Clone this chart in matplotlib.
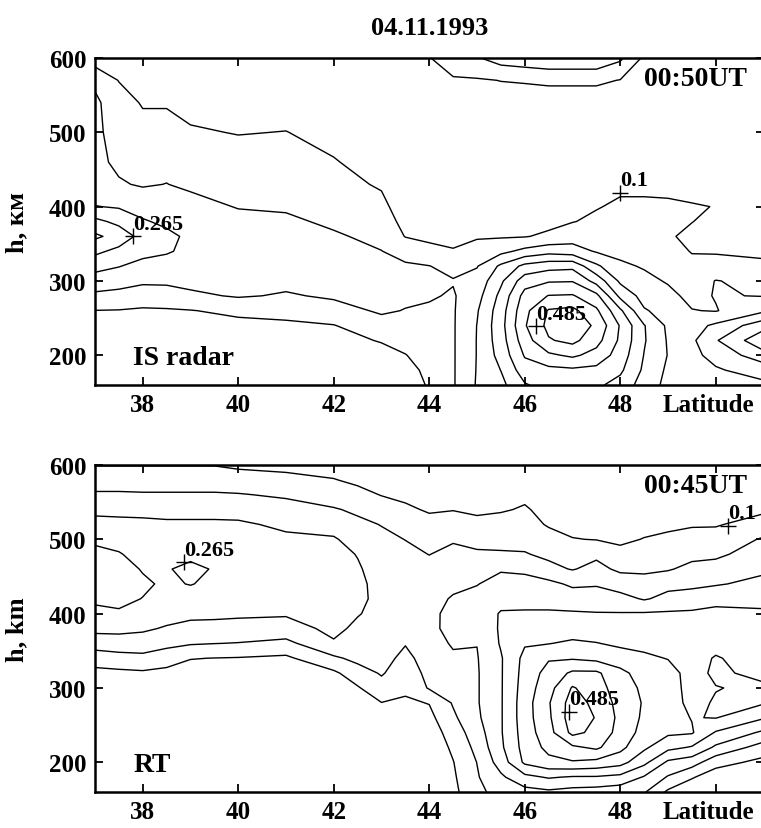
import numpy as np
import matplotlib
matplotlib.use("Agg")
import matplotlib.pyplot as plt
from matplotlib.transforms import ScaledTranslation

plt.rcParams['font.family'] = ['Liberation Serif', 'DejaVu Serif']
plt.rcParams['font.weight'] = 'bold'

levels = [0.1, 0.155, 0.21, 0.265, 0.32, 0.375, 0.43, 0.485]

# IS radar, 00:50UT: one height profile per latitude (bottom -> top)
lat_is = [37, 37.5, 38, 38.5, 39, 40, 41, 42, 43, 43.5, 44, 44.5, 45, 45.5,
          46, 46.5, 47, 47.5, 48, 48.5, 49, 49.5, 50, 51]
h_is = [160, 180, 200, 220, 240, 260, 280, 300, 320, 340, 360, 380, 400,
        430, 460, 500, 540, 570, 600]
ne_is = [
    [0.04, 0.05, 0.06, 0.07, 0.085, 0.099, 0.144, 0.185, 0.228, 0.278, 0.33, 0.28, 0.212, 0.175, 0.168, 0.163, 0.165, 0.145, 0.07],
    [0.04, 0.05, 0.06, 0.07, 0.085, 0.098, 0.135, 0.18, 0.212, 0.25, 0.30, 0.25, 0.205, 0.16, 0.145, 0.14, 0.125, 0.098, 0.06],
    [0.04, 0.05, 0.06, 0.07, 0.08, 0.094, 0.125, 0.165, 0.195, 0.225, 0.245, 0.215, 0.19, 0.15, 0.14, 0.12, 0.095, 0.07, 0.05],
    [0.04, 0.05, 0.06, 0.07, 0.08, 0.095, 0.13, 0.165, 0.19, 0.215, 0.222, 0.2, 0.185, 0.156, 0.14, 0.12, 0.095, 0.07, 0.05],
    [0.04, 0.05, 0.06, 0.07, 0.082, 0.098, 0.145, 0.17, 0.185, 0.198, 0.2, 0.19, 0.175, 0.145, 0.13, 0.105, 0.085, 0.07, 0.05],
    [0.04, 0.05, 0.06, 0.07, 0.085, 0.112, 0.16, 0.175, 0.185, 0.19, 0.185, 0.172, 0.152, 0.135, 0.12, 0.098, 0.08, 0.065, 0.05],
    [0.04, 0.05, 0.06, 0.07, 0.09, 0.118, 0.15, 0.168, 0.178, 0.182, 0.178, 0.165, 0.148, 0.135, 0.122, 0.101, 0.08, 0.065, 0.05],
    [0.04, 0.05, 0.062, 0.075, 0.098, 0.135, 0.162, 0.172, 0.175, 0.172, 0.162, 0.145, 0.13, 0.115, 0.103, 0.085, 0.07, 0.06, 0.05],
    [0.04, 0.055, 0.075, 0.105, 0.135, 0.162, 0.17, 0.172, 0.168, 0.156, 0.14, 0.125, 0.112, 0.095, 0.08, 0.065, 0.06, 0.055, 0.05],
    [0.05, 0.075, 0.098, 0.12, 0.138, 0.153, 0.165, 0.17, 0.162, 0.135, 0.098, 0.085, 0.075, 0.068, 0.063, 0.06, 0.06, 0.06, 0.06],
    [0.11, 0.118, 0.125, 0.132, 0.14, 0.148, 0.16, 0.165, 0.156, 0.12, 0.085, 0.07, 0.065, 0.06, 0.06, 0.065, 0.075, 0.09, 0.098],
    [0.15, 0.15, 0.15, 0.15, 0.15, 0.15, 0.15, 0.158, 0.14, 0.105, 0.08, 0.07, 0.065, 0.06, 0.06, 0.062, 0.07, 0.095, 0.125],
    [0.215, 0.213, 0.212, 0.212, 0.211, 0.205, 0.19, 0.175, 0.152, 0.12, 0.095, 0.08, 0.07, 0.065, 0.065, 0.065, 0.07, 0.095, 0.15],
    [0.25, 0.266, 0.285, 0.295, 0.3, 0.295, 0.28, 0.255, 0.22, 0.14, 0.095, 0.08, 0.07, 0.065, 0.065, 0.07, 0.08, 0.101, 0.18],
    [0.315, 0.35, 0.38, 0.405, 0.425, 0.415, 0.395, 0.35, 0.28, 0.17, 0.097, 0.08, 0.07, 0.065, 0.065, 0.07, 0.07, 0.105, 0.19],
    [0.34, 0.36, 0.42, 0.48, 0.5, 0.49, 0.432, 0.37, 0.3, 0.19, 0.11, 0.085, 0.075, 0.07, 0.065, 0.065, 0.07, 0.11, 0.2],
    [0.35, 0.365, 0.44, 0.5, 0.52, 0.5, 0.435, 0.372, 0.305, 0.18, 0.13, 0.098, 0.08, 0.07, 0.065, 0.065, 0.07, 0.11, 0.2],
    [0.33, 0.36, 0.41, 0.45, 0.475, 0.44, 0.39, 0.3, 0.22, 0.15, 0.125, 0.11, 0.097, 0.08, 0.07, 0.065, 0.07, 0.11, 0.2],
    [0.3, 0.33, 0.35, 0.365, 0.37, 0.33, 0.25, 0.2, 0.165, 0.14, 0.125, 0.115, 0.108, 0.09, 0.075, 0.065, 0.07, 0.098, 0.165],
    [0.24, 0.255, 0.263, 0.27, 0.268, 0.215, 0.19, 0.17, 0.15, 0.135, 0.12, 0.112, 0.108, 0.09, 0.075, 0.065, 0.065, 0.07, 0.09],
    [0.195, 0.2, 0.208, 0.205, 0.2, 0.19, 0.17, 0.15, 0.13, 0.115, 0.105, 0.105, 0.106, 0.09, 0.075, 0.065, 0.065, 0.065, 0.07],
    [0.19, 0.195, 0.198, 0.2, 0.19, 0.157, 0.14, 0.125, 0.11, 0.098, 0.09, 0.101, 0.103, 0.085, 0.07, 0.065, 0.065, 0.065, 0.065],
    [0.2, 0.205, 0.225, 0.26, 0.22, 0.152, 0.158, 0.157, 0.12, 0.095, 0.085, 0.088, 0.099, 0.085, 0.07, 0.065, 0.065, 0.065, 0.065],
    [0.2, 0.23, 0.3, 0.36, 0.3, 0.2, 0.153, 0.14, 0.105, 0.095, 0.085, 0.085, 0.085, 0.08, 0.07, 0.065, 0.065, 0.065, 0.065],
]

# RT, 00:45UT
lat_rt = [37, 37.5, 38, 38.5, 39, 39.5, 40, 41, 42, 42.5, 43, 43.5, 44, 44.5,
          45, 45.5, 46, 46.5, 47, 47.5, 48, 48.5, 49, 49.5, 50, 51]
h_rt = [160, 180, 200, 220, 240, 260, 280, 300, 320, 340, 360, 380, 400, 420,
        440, 460, 480, 500, 520, 540, 560, 580, 600]
ne_rt = [
    [0.03, 0.03, 0.035, 0.04, 0.045, 0.05, 0.06, 0.07, 0.085, 0.125, 0.18, 0.225, 0.255, 0.272, 0.283, 0.285, 0.275, 0.258, 0.23, 0.195, 0.162, 0.13, 0.098],
    [0.03, 0.03, 0.035, 0.04, 0.045, 0.05, 0.06, 0.07, 0.088, 0.135, 0.185, 0.225, 0.26, 0.275, 0.285, 0.282, 0.268, 0.25, 0.225, 0.195, 0.162, 0.13, 0.098],
    [0.03, 0.03, 0.035, 0.04, 0.045, 0.05, 0.06, 0.072, 0.092, 0.14, 0.185, 0.218, 0.245, 0.264, 0.272, 0.262, 0.25, 0.24, 0.222, 0.195, 0.16, 0.13, 0.098],
    [0.03, 0.03, 0.035, 0.04, 0.045, 0.05, 0.06, 0.07, 0.085, 0.125, 0.17, 0.205, 0.23, 0.245, 0.258, 0.262, 0.255, 0.24, 0.22, 0.19, 0.16, 0.13, 0.098],
    [0.03, 0.03, 0.035, 0.04, 0.045, 0.05, 0.058, 0.066, 0.078, 0.102, 0.16, 0.195, 0.222, 0.245, 0.267, 0.275, 0.255, 0.24, 0.22, 0.19, 0.16, 0.13, 0.098],
    [0.03, 0.03, 0.035, 0.04, 0.045, 0.05, 0.058, 0.066, 0.077, 0.099, 0.156, 0.195, 0.22, 0.24, 0.255, 0.262, 0.25, 0.238, 0.22, 0.19, 0.16, 0.13, 0.098],
    [0.03, 0.03, 0.035, 0.04, 0.045, 0.05, 0.058, 0.066, 0.077, 0.097, 0.153, 0.192, 0.218, 0.235, 0.245, 0.25, 0.245, 0.235, 0.218, 0.19, 0.158, 0.125, 0.09],
    [0.03, 0.03, 0.035, 0.04, 0.045, 0.05, 0.058, 0.066, 0.075, 0.09, 0.14, 0.19, 0.215, 0.228, 0.235, 0.235, 0.23, 0.22, 0.2, 0.175, 0.148, 0.115, 0.085],
    [0.03, 0.03, 0.035, 0.04, 0.045, 0.05, 0.058, 0.068, 0.09, 0.145, 0.205, 0.222, 0.23, 0.235, 0.235, 0.232, 0.225, 0.215, 0.19, 0.16, 0.125, 0.102, 0.08],
    [0.03, 0.035, 0.04, 0.045, 0.05, 0.06, 0.075, 0.095, 0.13, 0.17, 0.19, 0.2, 0.213, 0.218, 0.218, 0.215, 0.208, 0.19, 0.168, 0.145, 0.115, 0.09, 0.075],
    [0.035, 0.04, 0.045, 0.055, 0.065, 0.08, 0.099, 0.135, 0.16, 0.175, 0.185, 0.19, 0.195, 0.2, 0.198, 0.19, 0.18, 0.168, 0.153, 0.125, 0.098, 0.08, 0.07],
    [0.035, 0.04, 0.045, 0.055, 0.065, 0.078, 0.092, 0.11, 0.125, 0.14, 0.158, 0.17, 0.18, 0.185, 0.185, 0.18, 0.168, 0.154, 0.13, 0.108, 0.09, 0.075, 0.065],
    [0.04, 0.045, 0.05, 0.06, 0.07, 0.085, 0.102, 0.16, 0.17, 0.18, 0.19, 0.198, 0.2, 0.195, 0.185, 0.17, 0.154, 0.135, 0.115, 0.095, 0.08, 0.07, 0.06],
    [0.085, 0.092, 0.098, 0.11, 0.125, 0.145, 0.16, 0.175, 0.19, 0.203, 0.215, 0.225, 0.222, 0.214, 0.2, 0.185, 0.168, 0.15, 0.125, 0.098, 0.085, 0.075, 0.065],
    [0.145, 0.15, 0.156, 0.17, 0.185, 0.2, 0.205, 0.205, 0.205, 0.207, 0.211, 0.222, 0.228, 0.225, 0.208, 0.19, 0.162, 0.14, 0.115, 0.09, 0.08, 0.07, 0.065],
    [0.17, 0.2, 0.235, 0.255, 0.26, 0.26, 0.26, 0.26, 0.26, 0.26, 0.27, 0.272, 0.27, 0.245, 0.228, 0.205, 0.16, 0.14, 0.12, 0.095, 0.085, 0.075, 0.07],
    [0.19, 0.25, 0.33, 0.34, 0.345, 0.35, 0.35, 0.345, 0.34, 0.335, 0.315, 0.29, 0.27, 0.25, 0.228, 0.2, 0.158, 0.14, 0.12, 0.105, 0.09, 0.08, 0.07],
    [0.2, 0.27, 0.36, 0.39, 0.41, 0.42, 0.425, 0.41, 0.395, 0.37, 0.318, 0.29, 0.27, 0.25, 0.225, 0.168, 0.145, 0.12, 0.095, 0.085, 0.08, 0.075, 0.07],
    [0.19, 0.26, 0.37, 0.42, 0.5, 0.515, 0.51, 0.49, 0.44, 0.37, 0.33, 0.29, 0.27, 0.24, 0.2, 0.152, 0.13, 0.102, 0.085, 0.08, 0.075, 0.07, 0.065],
    [0.185, 0.26, 0.36, 0.44, 0.47, 0.482, 0.47, 0.455, 0.44, 0.36, 0.322, 0.29, 0.268, 0.235, 0.205, 0.17, 0.145, 0.098, 0.085, 0.08, 0.075, 0.07, 0.065],
    [0.175, 0.25, 0.34, 0.39, 0.41, 0.415, 0.41, 0.4, 0.39, 0.345, 0.31, 0.285, 0.268, 0.228, 0.185, 0.145, 0.115, 0.09, 0.08, 0.075, 0.07, 0.065, 0.06],
    [0.16, 0.205, 0.28, 0.33, 0.355, 0.365, 0.37, 0.365, 0.35, 0.33, 0.305, 0.285, 0.27, 0.205, 0.175, 0.145, 0.125, 0.102, 0.085, 0.075, 0.07, 0.065, 0.06],
    [0.09, 0.15, 0.2, 0.28, 0.33, 0.34, 0.345, 0.345, 0.34, 0.318, 0.3, 0.285, 0.272, 0.225, 0.195, 0.15, 0.13, 0.11, 0.09, 0.075, 0.07, 0.065, 0.06],
    [0.06, 0.105, 0.18, 0.26, 0.325, 0.318, 0.305, 0.3, 0.3, 0.295, 0.29, 0.285, 0.275, 0.23, 0.2, 0.17, 0.14, 0.12, 0.095, 0.08, 0.07, 0.065, 0.06],
    [0.05, 0.07, 0.12, 0.2, 0.26, 0.322, 0.325, 0.318, 0.33, 0.325, 0.3, 0.288, 0.278, 0.25, 0.205, 0.175, 0.145, 0.125, 0.095, 0.08, 0.07, 0.065, 0.06],
    [0.045, 0.06, 0.085, 0.13, 0.2, 0.27, 0.325, 0.33, 0.305, 0.29, 0.285, 0.28, 0.27, 0.255, 0.225, 0.2, 0.18, 0.16, 0.125, 0.09, 0.075, 0.065, 0.06],
]

# contour labels (lat, h, text)
labels_is = [(37.8, 360, '0.265'), (48.0, 418, '0.1'), (46.23, 239, '0.485')]
labels_rt = [(38.86, 469, '0.265'), (46.92, 268, '0.485'), (50.25, 518, '0.1')]

xticks = [38, 40, 42, 44, 46, 48, 50]
xticklabels = ['38', '40', '42', '44', '46', '48', 'Latitude']
yticks = [200, 300, 400, 500, 600]


def draw_panel(ax, lat, h, ne, labels, ylab, time_txt, name_txt):
    z = np.array(ne).T
    ax.contour(lat, h, z, levels=levels, colors='k', linewidths=1.0)
    for x, y, s in labels:
        ax.plot(x, y, '+', color='k', ms=12, mew=1.0)
        ax.annotate(s, (x, y), xytext=(0, 2), textcoords='offset points',
                    ha='left', va='bottom', fontsize=16, weight='bold')
    ax.set_xlim(37, 51)
    ax.set_ylim(160, 600)
    ax.set_xticks(xticks)
    ax.set_xticklabels(xticklabels)
    ax.set_yticks(yticks)
    ax.tick_params(direction='in', top=True, right=True, length=6, width=1.3,
                   labelsize=18, pad=6)
    # keep "Latitude" inside the picture
    lbl = ax.get_xticklabels()[-1]
    lbl.set_transform(lbl.get_transform() +
                      ScaledTranslation(-5 / 72, 0, fig.dpi_scale_trans))
    for sp in ax.spines.values():
        sp.set_linewidth(1.8)
    ax.set_ylabel(ylab, fontsize=19, weight='bold')
    ax.yaxis.set_label_coords(-0.1, 0.5)
    ax.text(48.5, 572, time_txt, fontsize=20, weight='bold', va='center')
    ax.text(37.8, 197, name_txt, fontsize=20, weight='bold', va='center')


fig = plt.figure(figsize=(7.61, 8.29), dpi=100)
ax1 = fig.add_axes([0.1248, 0.5344, 0.8785, 0.3944])
ax2 = fig.add_axes([0.1248, 0.0434, 0.8785, 0.3945])

draw_panel(ax1, lat_is, h_is, ne_is, labels_is, 'h, км', '00:50UT', 'IS radar')
draw_panel(ax2, lat_rt, h_rt, ne_rt, labels_rt, 'h, km', '00:45UT', 'RT')

fig.text(0.565, 0.966, '04.11.1993', ha='center', va='center', fontsize=19,
         weight='bold')

fig.savefig('out.png', dpi=100)
